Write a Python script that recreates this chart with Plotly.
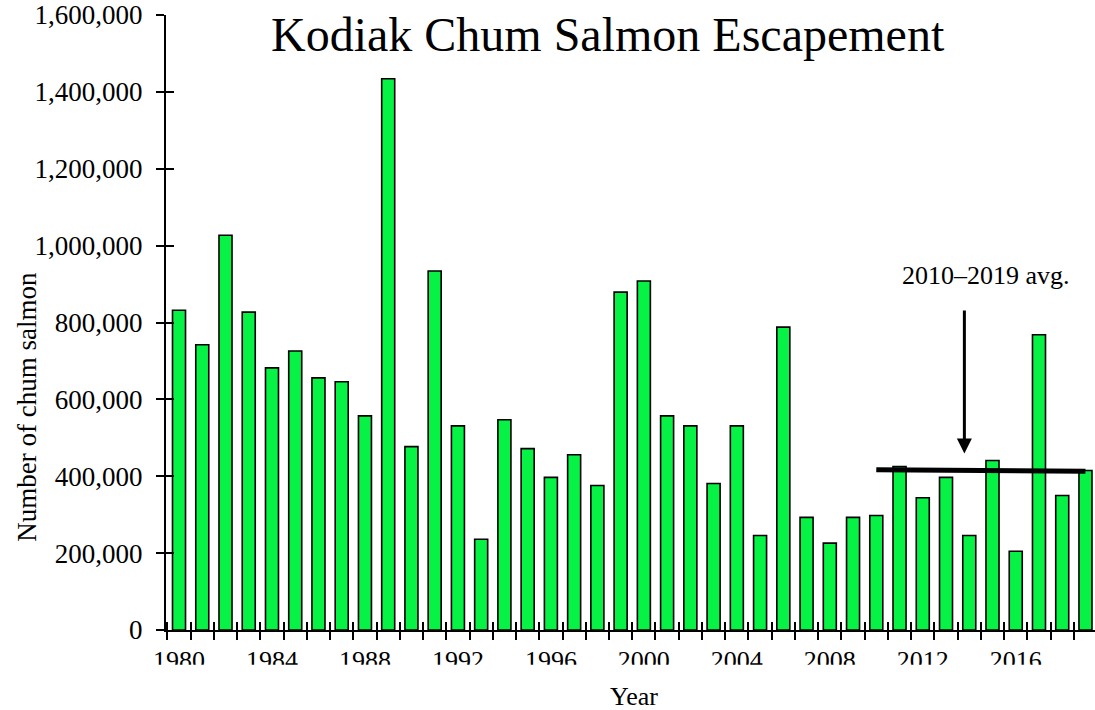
import plotly.graph_objects as go

years = list(range(1980, 2020))
escapement = [832000, 742000, 1027000, 827000, 682000, 726000, 656000, 646000, 557000, 1434000,
              477000, 934000, 531000, 236000, 547000, 472000, 397000, 456000, 376000, 879000,
              908000, 557000, 531000, 381000, 531000, 246000, 788000, 293000, 226000, 293000,
              298000, 425000, 344000, 397000, 246000, 441000, 205000, 768000, 350000, 415000]
label_years = [1980, 1984, 1988, 1992, 1996, 2000, 2004, 2008, 2012, 2016]
label_text = [str(y) for y in label_years]
boundary_ticks = [y + 0.5 for y in range(1979, 2019)]
y_ticks = [0, 200000, 400000, 600000, 800000, 1000000, 1200000, 1400000, 1600000]
avg_years = [2010, 2019]
avg_values = [417000, 413000]
arrow_x = 2013.79
arrow_tip = 459000
arrow_tail = 835000

FONT = "Liberation Serif"
XR = [1979.44, 2019.41]
YR = [0, 1600000]

fig = go.Figure()
fig.add_trace(go.Bar(x=years, y=escapement, width=0.56,
                     marker=dict(color="#06F244", line=dict(color="black", width=1.6)),
                     showlegend=False))
fig.add_trace(go.Scatter(x=avg_years, y=avg_values, mode="lines",
                         line=dict(color="black", width=5), showlegend=False))
fig.add_trace(go.Scatter(x=[], y=[], xaxis="x2", yaxis="y2", showlegend=False))
fig.add_trace(go.Scatter(x=[], y=[], xaxis="x3", yaxis="y", showlegend=False))

fig.update_layout(
    width=1095, height=710,
    margin=dict(l=166, r=0, t=13, b=80, pad=0),
    paper_bgcolor="white", plot_bgcolor="white",
    font=dict(family=FONT, size=26, color="black"),
    xaxis=dict(range=XR, tickmode="array", tickvals=boundary_ticks, showticklabels=False,
               ticks="outside", ticklen=8, tickwidth=2, tickcolor="black",
               showline=True, linewidth=2, linecolor="black", showgrid=False, zeroline=False),
    xaxis2=dict(range=XR, overlaying="x", anchor="y2", tickmode="array", tickvals=boundary_ticks,
                showticklabels=False, ticks="inside", ticklen=8, tickwidth=2, tickcolor="black",
                showline=False, showgrid=False, zeroline=False),
    xaxis3=dict(range=XR, overlaying="x", anchor="y", tickmode="array", tickvals=label_years,
                ticktext=label_text, ticks="", showline=False, showgrid=False, zeroline=False,
                tickfont=dict(family=FONT, size=26, color="black"), ticklabelstandoff=12,
                ticklabeloverflow="allow"),
    yaxis=dict(range=YR, tickmode="array", tickvals=y_ticks, tickformat=",d",
               ticks="outside", ticklen=8, tickwidth=2, tickcolor="black",
               showline=True, linewidth=2, linecolor="black", showgrid=False, zeroline=False,
               tickfont=dict(family=FONT, size=27, color="black"), ticklabelstandoff=8,
               ticklabeloverflow="allow"),
    yaxis2=dict(range=YR, overlaying="y", anchor="x", tickmode="array", tickvals=y_ticks,
                showticklabels=False, ticks="inside", ticklen=8, tickwidth=2, tickcolor="black",
                showline=False, showgrid=False, zeroline=False),
)

# mask that clips the lower part of the year labels, as in the source image
fig.add_shape(type="rect", xref="paper", yref="paper", x0=-0.2, x1=1.0,
              y0=-0.0567, y1=-0.097, fillcolor="white", line=dict(width=0), layer="above")

fig.add_annotation(text="Kodiak Chum Salmon Escapement", xref="paper", yref="paper",
                   x=0.4758, y=0.9676, xanchor="center", yanchor="middle", showarrow=False,
                   font=dict(family=FONT, size=48, color="black"))
fig.add_annotation(text="Number of chum salmon", xref="paper", yref="paper",
                   x=-0.1496, y=0.363, xanchor="center", yanchor="middle", textangle=-90,
                   showarrow=False, font=dict(family=FONT, size=27, color="black"))
fig.add_annotation(text="Year", xref="paper", yref="paper",
                   x=0.5043, y=-0.108, xanchor="center", yanchor="middle",
                   showarrow=False, font=dict(family=FONT, size=26, color="black"))
fig.add_annotation(text="2010–2019 avg.", x=2014.70, y=923000, xanchor="center", yanchor="middle",
                   showarrow=False, font=dict(family=FONT, size=26, color="black"))
fig.add_annotation(text="", x=arrow_x, y=arrow_tip, ax=arrow_x, ay=arrow_tail,
                   axref="x", ayref="y", showarrow=True, arrowhead=2, arrowsize=1,
                   arrowwidth=3, arrowcolor="black")

fig.write_html("out.html", config={"displayModeBar": False},
               post_script="document.body.style.margin='0px';")
